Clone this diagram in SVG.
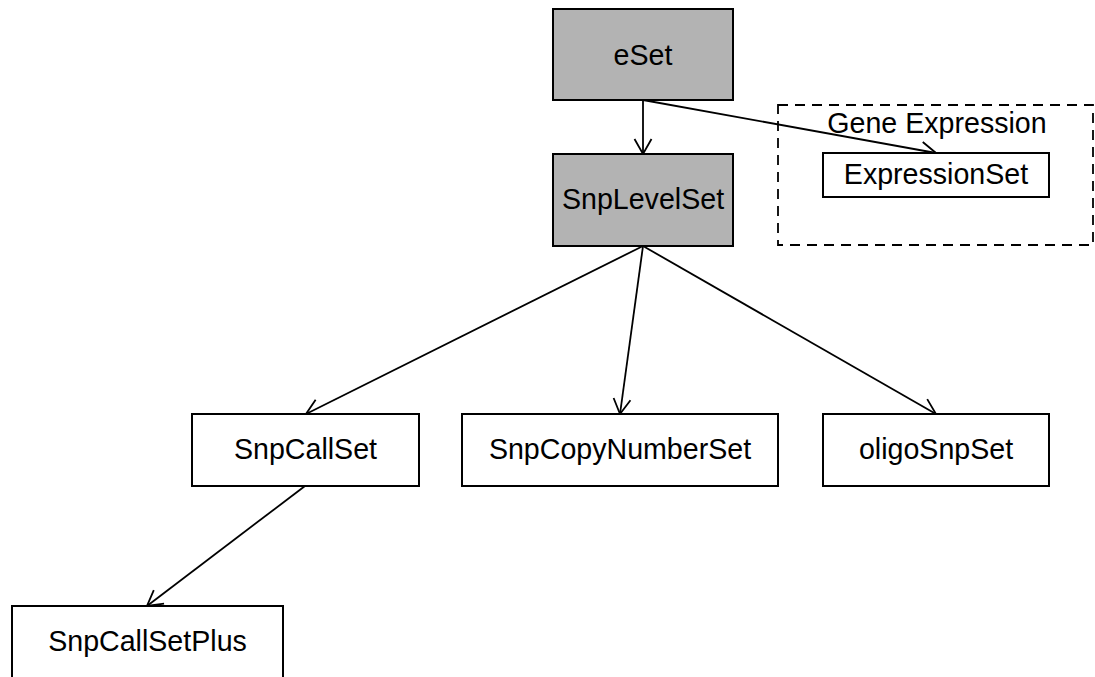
<svg xmlns="http://www.w3.org/2000/svg" width="1095" height="677" viewBox="0 0 1095 677">
<defs>
<style>
.box{fill:#ffffff;stroke:#000;stroke-width:2}
.grey{fill:#b3b3b3;stroke:#000;stroke-width:2}
.lbl{font-family:"Liberation Sans",Arial,sans-serif;font-size:28.6px;fill:#000;text-anchor:middle}
.edge{stroke:#000;stroke-width:1.8;fill:none;marker-end:url(#arr)}
.cluster{fill:none;stroke:#000;stroke-width:1.8;stroke-dasharray:10 7}
</style>
<marker id="arr" viewBox="-18 -11 20 22" refX="0" refY="0" markerUnits="userSpaceOnUse" markerWidth="20" markerHeight="22" orient="auto">
<path d="M-15,-8.5 L0,0 L-15,8.5" fill="none" stroke="#000" stroke-width="1.8"/>
</marker>
</defs>
<rect fill="#fff" x="0" y="0" width="1095" height="677"/>
<g id="cluster-gene-expression">
<rect class="cluster" x="778" y="105" width="315" height="140"/>
<text class="lbl" x="937" y="133">Gene Expression</text>
</g>
<g id="connectors">
<line class="edge" x1="643" y1="100" x2="643" y2="154"/>
<line class="edge" x1="643" y1="100" x2="936" y2="153"/>
<line class="edge" x1="643" y1="246" x2="306" y2="414"/>
<line class="edge" x1="643" y1="246" x2="620" y2="414"/>
<line class="edge" x1="643" y1="246" x2="936" y2="414"/>
<line class="edge" x1="305" y1="486" x2="147" y2="606"/>
</g>
<g id="eSet">
<rect class="grey" x="553" y="9" width="180" height="91"/>
<text class="lbl" x="643" y="65">eSet</text>
</g>
<g id="SnpLevelSet">
<rect class="grey" x="553" y="154" width="180" height="92"/>
<text class="lbl" x="643" y="209">SnpLevelSet</text>
</g>
<g id="ExpressionSet">
<rect class="box" x="823" y="153" width="226" height="44"/>
<text class="lbl" x="936" y="184">ExpressionSet</text>
</g>
<g id="SnpCallSet">
<rect class="box" x="192" y="414" width="227" height="72"/>
<text class="lbl" x="305.5" y="459">SnpCallSet</text>
</g>
<g id="SnpCopyNumberSet">
<rect class="box" x="462" y="414" width="316" height="72"/>
<text class="lbl" x="620" y="459">SnpCopyNumberSet</text>
</g>
<g id="oligoSnpSet">
<rect class="box" x="823" y="414" width="226" height="72"/>
<text class="lbl" x="936" y="459">oligoSnpSet</text>
</g>
<g id="SnpCallSetPlus">
<rect class="box" x="12" y="606" width="271" height="72"/>
<text class="lbl" x="147.5" y="651">SnpCallSetPlus</text>
</g>
</svg>
